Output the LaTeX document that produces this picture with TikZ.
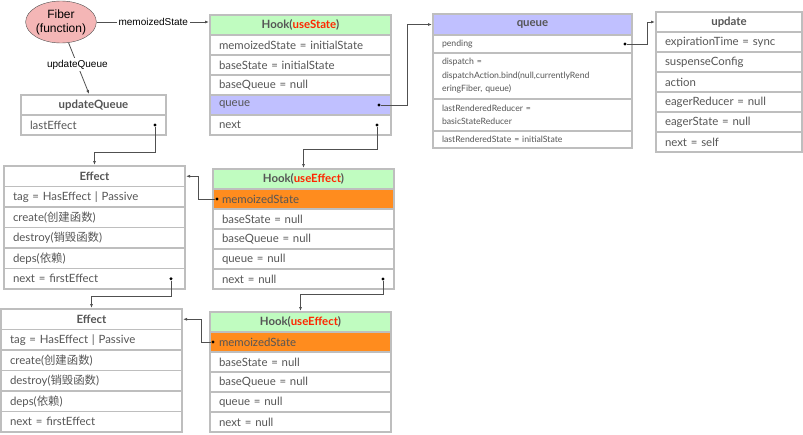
\documentclass[tikz,border=0pt]{standalone}
\usepackage{fontspec}
\setmainfont{Lato}
\newfontfamily\labelfont{Liberation Sans}
\newfontfamily\cjkfont{Noto Sans CJK SC}
\usetikzlibrary{arrows.meta,positioning,shapes.geometric}
\definecolor{hookGreen}{RGB}{192,252,192}
\definecolor{hookLavender}{RGB}{192,192,255}
\definecolor{hookOrange}{RGB}{255,140,30}
\definecolor{hookPink}{RGB}{244,182,182}
\definecolor{hookRed}{RGB}{255,38,0}
\definecolor{hookBorder}{RGB}{190,190,190}
\definecolor{hookText}{RGB}{85,85,85}
\definecolor{hookLine}{RGB}{80,80,80}

\begin{document}
\begin{tikzpicture}[
  x=1pt, y=1pt,
  cellrow/.style={draw=hookBorder, line width=1.6pt, outer sep=0pt, inner xsep=9pt,
                  inner ysep=0pt, text width=#1, minimum height=20pt, align=left,
                  text=hookText, font=\fontsize{11.4}{13}\selectfont},
  cellhead/.style={cellrow=#1, align=center, font=\fontsize{11.4}{13}\selectfont\bfseries},
  smallrow/.style={cellrow=#1, font=\fontsize{8.7}{13.5}\selectfont},
  refdot/.style={circle, fill=black, inner sep=0pt, minimum size=3.2pt},
  edgelabel/.style={fill=white, inner sep=2pt, text=black, font=\labelfont\fontsize{10}{12}\selectfont},
  link/.style={-{Latex[length=4pt,width=3pt]}, draw=hookLine, line width=0.8pt, shorten >=1pt}
]
\useasboundingbox (0,0) rectangle (803,-434);

% fiber
\node[ellipse, draw=hookLine, fill=hookPink, minimum width=64pt, minimum height=42pt,
      inner sep=0pt, align=center, font=\labelfont\fontsize{12}{14}\selectfont] (fiber) at (61,-22) {Fiber\\(function)};

% Hook(useState)
\node[cellhead=163pt, fill=hookGreen, anchor=north] (stateHook) at (300.5,-15) {Hook(\textcolor{hookRed}{useState})};
\node[cellrow=163pt, below=0pt of stateHook] (stateMemo) {memoizedState = initialState};
\node[cellrow=163pt, below=0pt of stateMemo] (stateBase) {baseState = initialState};
\node[cellrow=163pt, below=0pt of stateBase] (stateBaseQueue) {baseQueue = null};
\node[cellrow=163pt, fill=hookLavender, below=0pt of stateBaseQueue] (stateQueue) {queue};
\node[cellrow=163pt, below=0pt of stateQueue] (stateNext) {next};

% updateQueue
\node[cellhead=127pt, anchor=north] (updQueue) at (93.5,-95) {updateQueue};
\node[cellrow=127pt, below=0pt of updQueue] (updQueueLast) {lastEffect};

% queue
\node[cellhead=181pt, fill=hookLavender, minimum height=21pt, anchor=north] (queue) at (532.5,-14) {queue};
\node[smallrow=181pt, minimum height=18pt, below=0pt of queue] (queuePending) {pending};
\node[smallrow=181pt, minimum height=46pt, below=0pt of queuePending] (queueDispatch) {dispatch =\\dispatchAction.bind(null,currentlyRend\\eringFiber, queue)};
\node[smallrow=181pt, minimum height=32pt, below=0pt of queueDispatch] (queueReducer) {lastRenderedReducer =\\basicStateReducer};
\node[smallrow=181pt, minimum height=17pt, below=0pt of queueReducer] (queueLastState) {lastRenderedState = initialState};

% update
\node[cellhead=128pt, anchor=north] (update) at (729,-12) {update};
\node[cellrow=128pt, below=0pt of update] (updateExp) {expirationTime = sync};
\node[cellrow=128pt, below=0pt of updateExp] (updateSuspense) {suspenseConfig};
\node[cellrow=128pt, below=0pt of updateSuspense] (updateAction) {action};
\node[cellrow=128pt, below=0pt of updateAction] (updateReducer) {eagerReducer = null};
\node[cellrow=128pt, below=0pt of updateReducer] (updateState) {eagerState = null};
\node[cellrow=128pt, below=0pt of updateState] (updateNext) {next = self};

% first effect
\node[cellhead=163pt, minimum height=20.5pt, anchor=north] (effectA) at (94.5,-166) {Effect};
\node[cellrow=163pt, minimum height=20.5pt, below=0pt of effectA] (effectATag) {tag = HasEffect | Passive};
\node[cellrow=163pt, minimum height=20.5pt, below=0pt of effectATag] (effectACreate) {create({\cjkfont 创建函数})};
\node[cellrow=163pt, minimum height=20.5pt, below=0pt of effectACreate] (effectADestroy) {destroy({\cjkfont 销毁函数})};
\node[cellrow=163pt, minimum height=20.5pt, below=0pt of effectADestroy] (effectADeps) {deps({\cjkfont 依赖})};
\node[cellrow=163pt, minimum height=20.5pt, below=0pt of effectADeps] (effectANext) {next = firstEffect};

% first Hook(useEffect)
\node[cellhead=163pt, fill=hookGreen, anchor=north] (effHookA) at (303.5,-169) {Hook(\textcolor{hookRed}{useEffect})};
\node[cellrow=163pt, fill=hookOrange, below=0pt of effHookA] (effHookAMemo) {memoizedState};
\node[cellrow=163pt, below=0pt of effHookAMemo] (effHookABase) {baseState = null};
\node[cellrow=163pt, below=0pt of effHookABase] (effHookABaseQueue) {baseQueue = null};
\node[cellrow=163pt, below=0pt of effHookABaseQueue] (effHookAQueue) {queue = null};
\node[cellrow=163pt, below=0pt of effHookAQueue] (effHookANext) {next = null};

% second effect
\node[cellhead=163pt, minimum height=20.5pt, anchor=north] (effectB) at (91.5,-309) {Effect};
\node[cellrow=163pt, minimum height=20.5pt, below=0pt of effectB] (effectBTag) {tag = HasEffect | Passive};
\node[cellrow=163pt, minimum height=20.5pt, below=0pt of effectBTag] (effectBCreate) {create({\cjkfont 创建函数})};
\node[cellrow=163pt, minimum height=20.5pt, below=0pt of effectBCreate] (effectBDestroy) {destroy({\cjkfont 销毁函数})};
\node[cellrow=163pt, minimum height=20.5pt, below=0pt of effectBDestroy] (effectBDeps) {deps({\cjkfont 依赖})};
\node[cellrow=163pt, minimum height=20.5pt, below=0pt of effectBDeps] (effectBNext) {next = firstEffect};

% second Hook(useEffect)
\node[cellhead=163pt, fill=hookGreen, anchor=north] (effHookB) at (300.5,-312) {Hook(\textcolor{hookRed}{useEffect})};
\node[cellrow=163pt, fill=hookOrange, below=0pt of effHookB] (effHookBMemo) {memoizedState};
\node[cellrow=163pt, below=0pt of effHookBMemo] (effHookBBase) {baseState = null};
\node[cellrow=163pt, below=0pt of effHookBBase] (effHookBBaseQueue) {baseQueue = null};
\node[cellrow=163pt, below=0pt of effHookBBaseQueue] (effHookBQueue) {queue = null};
\node[cellrow=163pt, below=0pt of effHookBQueue] (effHookBNext) {next = null};

% pointer dots
\node[refdot] (stateQueueDot) at ([xshift=-12pt]stateQueue.east) {};
\node[refdot] (stateNextDot) at ([xshift=-14pt]stateNext.east) {};
\node[refdot] (updQueueLastDot) at ([xshift=-11pt]updQueueLast.east) {};
\node[refdot] (queuePendingDot) at ([xshift=-7pt]queuePending.east) {};
\node[refdot] (effHookAMemoDot) at ([xshift=4pt]effHookAMemo.west) {};
\node[refdot] (effectANextDot) at ([xshift=-14pt]effectANext.east) {};
\node[refdot] (effHookANextDot) at ([xshift=-11pt]effHookANext.east) {};
\node[refdot] (effHookBMemoDot) at ([xshift=3pt]effHookBMemo.west) {};

% pointers
\draw[link] (fiber.east) -- node[edgelabel] {memoizedState} (fiber.east -| stateHook.west);
\draw[link] (fiber.-70) -- node[edgelabel, pos=0.42] {updateQueue} ([xshift=-4pt]updQueue.north);
\draw[link] (stateQueueDot) -- ++(28pt,0) |- (queue.west);
\draw[link] (queuePendingDot) -- ++(22pt,0) |- (update.west);
\draw[link] (stateNextDot) -- ++(0,-24pt) -| (effHookA.north);
\draw[link] (updQueueLastDot) -- ++(0,-27pt) -| (effectA.north);
\draw[link] (effHookAMemoDot) -- ++(-19pt,0) |- (effectA.east);
\draw[link] (effectANextDot) -- ++(0,-18pt) -| (effectB.north);
\draw[link] (effHookANextDot) -- ++(0,-15pt) -| (effHookB.north);
\draw[link] (effHookBMemoDot) -- ++(-12pt,0) |- (effectB.east);
\end{tikzpicture}
\end{document}
